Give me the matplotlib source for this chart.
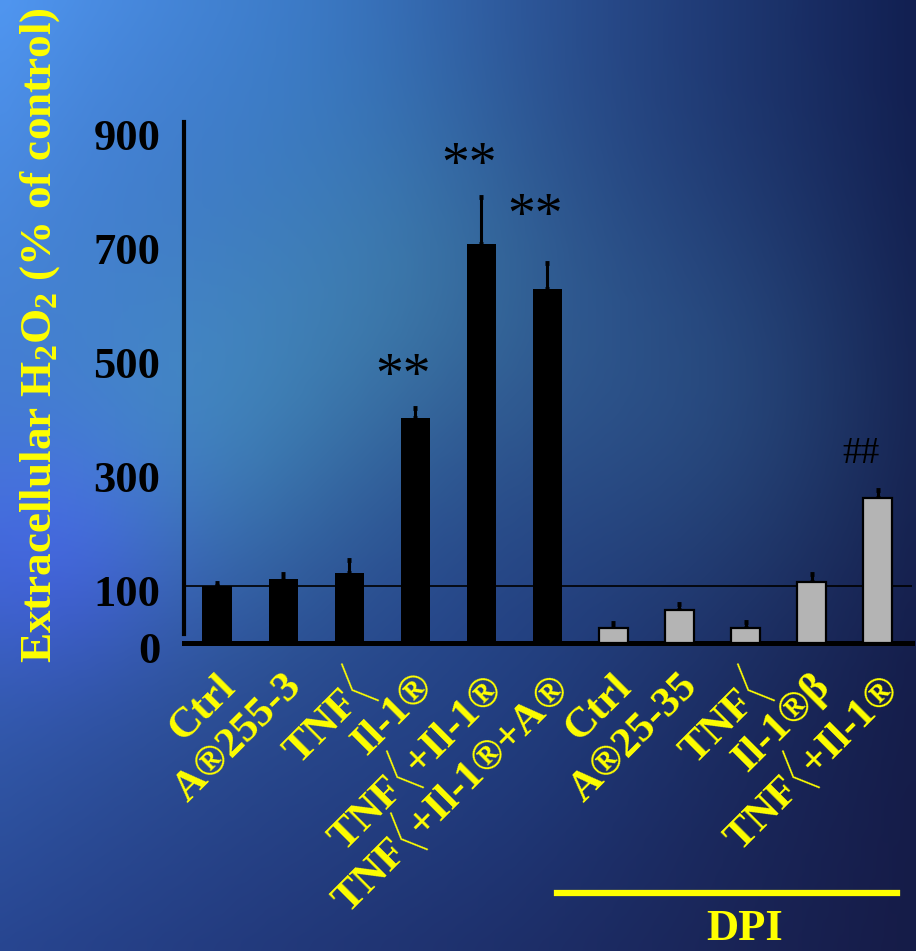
import numpy as np
import matplotlib
matplotlib.use("Agg")
import matplotlib.pyplot as plt
import matplotlib.transforms as mtransforms
from matplotlib.lines import Line2D

plt.rcParams['font.family'] = ['Liberation Serif', 'DejaVu Serif', 'DejaVu Sans']
plt.rcParams['font.weight'] = 'bold'
plt.rcParams['mathtext.fontset'] = 'custom'
plt.rcParams['mathtext.rm'] = 'Liberation Serif:bold'
plt.rcParams['mathtext.default'] = 'rm'

# H2O2 release, % of control (mean, upper SEM)
groups = ["Ctrl", "A®255-3", "TNF$\\langle$", "Il-1®",
          "TNF$\\langle$+Il-1®", "TNF$\\langle$+Il-1®+A®"]
values = [100, 112, 123, 395, 700, 621]
errors = [5, 9, 23, 17, 82, 46]
marks = ["", "", "", "**", "**", "**"]

dpi_groups = ["Ctrl", "A®25-35", "TNF$\\langle$", "Il-1®β",
              "TNF$\\langle$+Il-1®"]
dpi_values = [27, 58, 26, 107, 254]
dpi_errors = [8, 10, 11, 14, 14]
dpi_marks = ["", "", "", "", "##"]

yticks = [0, 100, 300, 500, 700, 900]

W, H = 916, 951
fig = plt.figure(figsize=(W / 100, H / 100), dpi=100)

# mottled blue backdrop
bg = fig.add_axes([0, 0, 1, 1], zorder=-10)
gy, gx = np.mgrid[0:1:120j, 0:1:116j]
tl = np.array([80, 150, 240])
tr = np.array([18, 32, 82])
bl = np.array([40, 70, 145])
br = np.array([22, 28, 72])
img = ((1 - gx) * (1 - gy))[..., None] * tl + (gx * (1 - gy))[..., None] * tr \
    + ((1 - gx) * gy)[..., None] * bl + (gx * gy)[..., None] * br
blobs = [((0.22, 0.45), 0.14, (10, 30, 15)),
         ((0.45, 0.30), 0.14, (10, 25, 10)),
         ((0.05, 0.58), 0.10, (10, -5, 35)),
         ((0.35, 0.05), 0.14, (0, 10, 10)),
         ((0.55, 0.75), 0.15, (0, 5, 10)),
         ((0.78, 0.42), 0.16, (10, 22, 20))]
for (cx, cy), s, col in blobs:
    g = np.exp(-((gx - cx) ** 2 + (gy - cy) ** 2) / (2 * s ** 2))
    img = img + g[..., None] * np.array(col)
bg.imshow(np.clip(img, 0, 255).astype(np.uint8), aspect='auto',
          interpolation='bicubic', extent=[0, 1, 1, 0])
bg.set_axis_off()

ax = fig.add_axes([184 / W, 1 - 643 / H, (912 - 184) / W, (643 - 118.6) / H])
ax.set_facecolor('none')

x1 = np.arange(len(groups))
x2 = np.arange(len(dpi_groups)) + len(groups)
ekw = dict(elinewidth=2.2, capsize=1.6, capthick=3.5, ecolor='black')

ax.bar(x1, values, width=0.44, color='black', zorder=3)
ax.errorbar(x1, values, yerr=[np.zeros(len(errors)), errors], fmt='none',
            zorder=2, **ekw)
ax.bar(x2, dpi_values, width=0.44, color='#b4b4b4', edgecolor='black',
       linewidth=1.6, zorder=3)
ax.errorbar(x2, dpi_values, yerr=[np.zeros(len(dpi_errors)), dpi_errors],
            fmt='none', zorder=2, **ekw)

ax.axhline(100, color='black', linewidth=1.2, zorder=1)

ax.set_xlim(-0.5, 10.52)
ax.set_ylim(0, 920)
ax.set_yticks(yticks)
ax.tick_params(axis='y', length=0, pad=17, labelsize=32, labelcolor='black')
ax.tick_params(axis='x', length=0, labelbottom=False)
off = mtransforms.ScaledTranslation(0, -3 / 72, fig.dpi_scale_trans)
for lab in ax.get_yticklabels():
    lab.set_fontweight('bold')
    lab.set_transform(lab.get_transform() + off)

for sp in ['top', 'right']:
    ax.spines[sp].set_visible(False)
ax.spines['left'].set_bounds(16, 914)
ax.spines['left'].set_linewidth(3)
ax.spines['bottom'].set_linewidth(3.6)

# significance marks, offset (pt) from the top of the error bar
all_x = list(x1) + list(x2)
all_top = [v + e for v, e in zip(values + dpi_values, errors + dpi_errors)]
mark_style = {"**": dict(fontsize=40, dx=-9, dy=[22, 22, 32]),
              "##": dict(fontsize=27, dx=-12, dy=[26])}
seen = {"**": 0, "##": 0}
for xi, top, m in zip(all_x, all_top, marks + dpi_marks):
    if not m:
        continue
    st = mark_style[m]
    dy = st["dy"][seen[m]]
    seen[m] += 1
    ax.annotate(m, xy=(xi, top), xytext=(st["dx"], dy), textcoords='offset points',
                ha='center', va='center', fontsize=st["fontsize"],
                fontweight='normal', color='black')

# rotated group labels
for xi, lab in zip(all_x, groups + dpi_groups):
    ax.annotate(lab, xy=(xi, 0), xytext=(9, -27), textcoords='offset points',
                ha='right', va='center', rotation=45, rotation_mode='anchor',
                fontsize=31, fontweight='bold', color='yellow')

fig.text(40 / W, 1 - 335 / H, "Extracellular H$_2$O$_2$ (% of control)",
         rotation=90, ha='center', va='center', fontsize=32.5,
         fontweight='bold', color='yellow')

fig.add_artist(Line2D([557 / W, 897 / W], [1 - 893 / H, 1 - 893 / H],
                      color='yellow', linewidth=4.5))
fig.text(745 / W, 1 - 929 / H, "DPI", ha='center', va='center',
         fontsize=32, fontweight='bold', color='yellow')

fig.savefig("out.png", dpi=100)
